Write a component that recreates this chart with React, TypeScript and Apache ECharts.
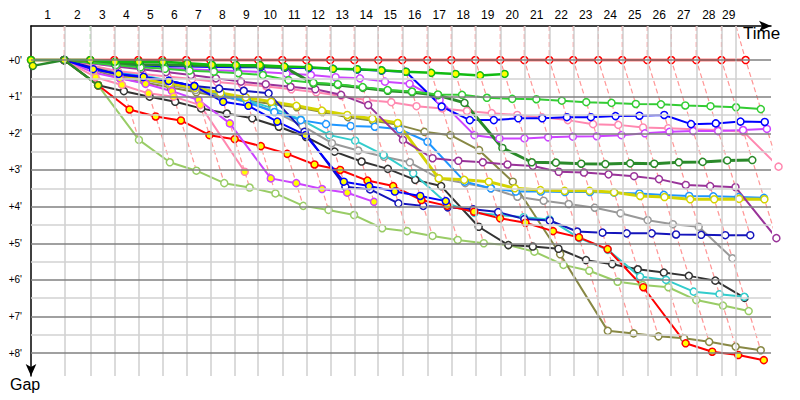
import React, { useEffect, useRef } from "react";
import * as echarts from "echarts";

// Leader's race time (minutes) at the end of each lap, index = lap (0 = start)
const leaderTimes = [
  0, 2.947, 5.248, 7.372, 9.496, 11.619, 13.743, 15.867, 17.991, 20.115, 22.239,
  24.363, 26.487, 28.611, 30.735, 32.858, 35.071, 37.195, 39.319, 41.531, 43.655,
  45.867, 47.991, 50.204, 52.327, 54.54, 56.664, 58.876, 61.106, 63.248,
];
// vertical grid lines (lap boundaries on the time axis), laps 1..29
const lapGridTimes = [
  2.947, 5.248, 7.372, 9.496, 11.619, 13.743, 15.867, 17.991, 20.115, 22.239,
  24.363, 26.487, 28.611, 30.735, 32.858, 35.071, 37.195, 39.319, 41.531, 43.655,
  45.867, 47.991, 50.204, 52.327, 54.54, 56.664, 58.876, 61.106, 62.389,
];
const gapTicks = [0, 1, 2, 3, 4, 5, 6, 7, 8];
const gapHalfTicks = [0.5, 1.5, 2.5, 3.5, 4.5, 5.5, 6.5, 7.5];
const greenLapLines = [2];

const GAP_MIN = -0.928;
const GAP_MAX = 8.622;
const TIME_MAX = 65.49;

// gaps (minutes behind the leader) per lap, index = lap; null = no point
const gapsA = [0, 0, 0, 0, 0, 0, 0, 0, 0, 0, 0, 0, 0, 0, 0, 0, 0, 0, 0, 0, 0, 0, 0, 0, 0, 0, 0, 0, 0, 0];
const gapsB = [0, 0, 0, 0.05, 0.05, 0.05, 0.09, 0.13, 0.14, 0.14, 0.18, 0.2, 0.24, 0.25, 0.28, 0.32, 0.35, 0.38, 0.42, 0.38];
const gapsC = [null, 0, null, 0.14, 0.2, 0.24, 0.29, 0.32, 0.36, 0.41, 0.55, 0.62, 0.66, 0.74, 0.82, 0.86, 0.94, 0.95, 1.03, 1.06, 1.07, 1.11, 1.15, 1.17, 1.2, 1.21, 1.24, 1.26, 1.29, 1.34];
const gapsD = [null, 0, null, 0.1, 0.12, 0.13, 0.14, 0.15, 0.16, 0.17, 0.2, 0.64, 0.68, 0.76, 0.84, 0.88, 0.96, 1.17, 2.4, 2.79, 2.8, 2.83, 2.84, 2.82, 2.83, 2.79, 2.78, 2.74, 2.73];
const gapsF = [null, 0, null, 0.12, 0.15, 0.17, 0.18, 0.19, 0.2, 0.2, 0.21, 0.22, 0.24, 0.26, 0.29, 0.32, 1.27, 1.64, 1.64, 1.59, 1.59, 1.56, 1.56, 1.53, 1.52, 1.5, 1.75, 1.73, 1.68, 1.69];
const gapsG = [null, 0, null, 0.4, 0.47, 0.57, 0.71, 0.78, 0.84, 0.91, 1.96, 3.46, 3.53, 3.91, 3.98, 4.02, 4.07, 4.15, 4.34, 4.38, 4.68, 4.71, 4.73, 4.73, 4.76, 4.77, 4.78, 4.78];
const gapsH = [null, 0, 0.25, 0.38, 0.46, 0.57, 0.71, 1.14, 1.25, 1.68, 2.05, 3.32, 3.44, 3.59, 3.71, 3.85];
const gapsI = [null, 0, null, 0.15, 0.19, 0.22, 0.25, 0.28, 0.3, 0.33, 0.37, 0.41, 0.47, 0.5, 0.59, 0.65, 1.09, 2.05, 2.14, 2.14, 2.11, 2.09, 2.08, 2.05, 2.0, 1.96, 1.94, 1.94, 1.91, 1.88];
const gapsJ = [null, 0, null, 0.18, 0.25, 0.33, 0.41, 0.5, 0.59, 0.66, 0.73, 0.8, 0.95, 1.23, 2.18, 2.68, 2.75, 2.79, 2.85, 2.89, 3.05, 3.07, 3.12, 3.17, 3.25, 3.41, 3.44, 3.47, 4.86];
const gapsK = [null, 0, null, 0.3, 0.38, 0.45, 0.52, 0.6, 0.66, 0.72, 0.8, 0.88, 0.98, 1.09, 1.15, 1.26, 1.32, 1.39, 1.45, 1.5, 1.56, 1.64, 1.75, 1.77, 1.84, 1.86, 1.89, 1.91, 1.96, 2.91];
const gapsL = [null, 0, 0.47, 0.68, 0.91, 1.0, 1.23, 3.05];
const gapsM = [null, 0, 0.35, 0.5, 0.65, 0.85, 1.09, 1.73, 3.23, 3.36, 3.52, 3.62, 3.87];
const gapsN = [null, 0, null, 0.4, 0.52, 0.64, 0.76, 0.9, 1.02, 1.14, 1.25, 1.38, 1.5, 1.6, 1.72, 3.23, 3.27, 3.32, 3.5, 3.55, 3.57, 3.57, 3.61, 3.71, 3.74, 3.8, 3.8, 3.79, 3.8];
const gapsO = [null, 0, null, 0.5, 0.62, 0.75, 0.88, 1.0, 1.1, 1.2, 1.29, 1.42, 1.56, 1.66, 1.77, 1.96, 2.05, 2.46, 3.32, 5.3, 7.39, 7.46, 7.54, 7.59, 7.69, 7.82, 7.92];
const gapsP = [null, 0, null, 0.35, 0.45, 0.6, 0.75, 0.95, 1.15, 1.42, 1.64, 1.75, 1.8, 1.82, 1.89, 2.23, 3.32, 3.5, 3.59, 3.59, 3.6, 3.6, 3.62, 3.64, 3.68, 3.71, 3.72, 3.74, 3.76];
const gapsQ = [null, 0, null, 0.32, 0.42, 0.56, 0.72, 0.9, 1.1, 1.32, 1.62, 2.05, 2.2, 2.59, 3.09, 3.9, 4.17, 4.23, 4.29, 4.35, 4.86, 5.18, 5.91, 6.0, 6.32, 6.39, 6.46];
const gapsR = [null, 0, 0.69, 0.85, 1.0, 1.14, 1.32, 1.46, 1.59, 1.82, 2.1, 2.5, 2.77, 2.97, 3.27, 3.44, 4.55, 5.05, 5.09, 5.15, 5.46, 5.57, 5.71, 5.8, 5.89, 6.02, 6.49];
const gapsS = [null, 0, 0.69, 1.35, 1.54, 1.65, 2.05, 2.16, 2.35, 2.56, 2.85, 3.0, 3.29, 3.44, 3.82, 3.98, 4.14, 4.32, 4.44, 4.67, 4.84, 5.16, 6.2, 7.73, 7.96, 8.05, 8.19];
const gapsT = [null, 0, null, 0.45, 0.55, 0.68, 0.82, 0.98, 1.15, 1.4, 1.8, 2.27, 2.47, 2.64, 2.79, 3.23, 3.36, 3.5, 3.73, 3.84, 3.93, 4.03, 4.18, 4.37, 4.48, 4.55, 5.41];
const gapsU = [null, 0, 0.69, 2.18, 2.79, 3.02, 3.36, 3.48, 3.64, 3.98, 4.09, 4.23, 4.59, 4.67, 4.8, 4.91, 5.0, 5.05, 5.23, 5.59, 5.75, 6.05, 6.14, 6.2, 6.55, 6.7, 6.85];
const gapsV = [0.16, 0, 0.69];

type Driver = { name: string; color: string; fill: string; width: number; gaps: (number | null)[] };

const WHITE = "#ffffff";
const YELLOW = "#ffff00";

// drawing order: first = bottom
const drivers: Driver[] = [
  { name: "U", color: "#99cc66", fill: WHITE, width: 2, gaps: gapsU },
  { name: "O", color: "#888844", fill: WHITE, width: 2, gaps: gapsO },
  { name: "T", color: "#999999", fill: WHITE, width: 2, gaps: gapsT },
  { name: "R", color: "#333333", fill: WHITE, width: 2, gaps: gapsR },
  { name: "Q", color: "#33cccc", fill: WHITE, width: 2, gaps: gapsQ },
  { name: "P", color: "#1e96ff", fill: WHITE, width: 2, gaps: gapsP },
  { name: "N", color: "#d4d400", fill: WHITE, width: 3, gaps: gapsN },
  { name: "K", color: "#ff88b0", fill: WHITE, width: 2, gaps: gapsK },
  { name: "J", color: "#993399", fill: WHITE, width: 2, gaps: gapsJ },
  { name: "I", color: "#cc44ff", fill: WHITE, width: 2, gaps: gapsI },
  { name: "G", color: "#1414bb", fill: WHITE, width: 2, gaps: gapsG },
  { name: "F", color: "#0000ff", fill: WHITE, width: 2, gaps: gapsF },
  { name: "D", color: "#2a8a2a", fill: WHITE, width: 3, gaps: gapsD },
  { name: "C", color: "#33cc33", fill: WHITE, width: 2, gaps: gapsC },
  { name: "S", color: "#ff0000", fill: YELLOW, width: 2, gaps: gapsS },
  { name: "M", color: "#cc44ff", fill: YELLOW, width: 2, gaps: gapsM },
  { name: "L", color: "#ff88b0", fill: YELLOW, width: 2, gaps: gapsL },
  { name: "H", color: "#0000ff", fill: YELLOW, width: 2, gaps: gapsH },
  { name: "A", color: "#ff0000", fill: WHITE, width: 2.5, gaps: gapsA },
  { name: "B", color: "#11bb11", fill: YELLOW, width: 2.5, gaps: gapsB },
  { name: "V", color: "#2a8a2a", fill: YELLOW, width: 2.5, gaps: gapsV },
];

const toPoints = (gaps: (number | null)[]) =>
  gaps
    .map((g, lap) => (g == null ? null : [leaderTimes[lap] + g, g]))
    .filter((p) => p !== null) as number[][];

const lapLabelTimes = lapGridTimes.map((t, i) => ((i === 0 ? 0 : lapGridTimes[i - 1]) + t) / 2);

export default function App() {
  const ref = useRef<HTMLDivElement>(null);

  useEffect(() => {
    if (!ref.current) return;
    const chart = echarts.init(ref.current, undefined, { renderer: "svg" });

    const gridSeries: any = {
      type: "line",
      data: [],
      silent: true,
      z: 1,
      markLine: {
        silent: true,
        animation: false,
        symbol: ["none", "none"],
        label: { show: false },
        emphasis: { disabled: true },
        data: [
          ...lapGridTimes.map((t) => ({ xAxis: t, lineStyle: { color: "#cfcfcf", width: 1.5, type: "solid" } })),
          ...gapHalfTicks.map((v) => ({ yAxis: v, lineStyle: { color: "#d2d2d2", width: 1.5, type: "solid" } })),
          ...gapTicks.map((v) => ({ yAxis: v, lineStyle: { color: "#808080", width: 1.5, type: "solid" } })),
        ],
      },
    };

    const lapLines = lapGridTimes.map((gt, i) => {
      const lap = i + 1;
      let maxGap = 0;
      drivers.forEach((d) => {
        const g = d.gaps[lap];
        if (g != null && g > maxGap) maxGap = g;
      });
      return {
        type: "line",
        silent: true,
        clip: false,
        z: 2,
        symbol: "none",
        data: [
          [gt, GAP_MIN],
          [leaderTimes[lap], 0],
          [leaderTimes[lap] + maxGap, maxGap],
        ],
        lineStyle: {
          color: greenLapLines.includes(lap) ? "#96d690" : "#ff9696",
          width: 1.2,
          type: [5, 3],
        },
      };
    });

    const driverSeries = drivers.map((d) => ({
      type: "line",
      name: d.name,
      silent: true,
      clip: false,
      z: 3,
      data: toPoints(d.gaps),
      symbol: "circle",
      symbolSize: 7,
      showSymbol: true,
      showAllSymbol: true,
      emphasis: { disabled: true },
      lineStyle: { color: d.color, width: d.width },
      itemStyle: { color: d.fill, borderColor: d.color, borderWidth: 1.5 },
    }));

    chart.setOption({
      animation: false,
      backgroundColor: "#ffffff",
      grid: { left: 31, top: 26, right: 29, bottom: 24 },
      xAxis: {
        type: "value",
        position: "top",
        min: 0,
        max: TIME_MAX,
        splitLine: { show: false },
        axisTick: { show: false },
        axisLine: {
          show: true,
          onZero: false,
          symbol: ["none", "arrow"],
          symbolSize: [8, 12],
          lineStyle: { color: "#000", width: 1.5 },
        },
        axisLabel: {
          customValues: lapLabelTimes,
          formatter: (v: number) => {
            const idx = lapLabelTimes.findIndex((t) => Math.abs(t - v) < 1e-6);
            return String(idx + 1);
          },
          margin: 5,
          color: "#000",
          fontSize: 12,
          fontFamily: "Liberation Sans",
        },
      },
      yAxis: {
        type: "value",
        inverse: true,
        min: GAP_MIN,
        max: GAP_MAX,
        splitLine: { show: false },
        axisTick: { show: false },
        axisLine: {
          show: true,
          onZero: false,
          symbol: ["arrow", "none"],
          symbolSize: [8, 12],
          symbolOffset: [0, 0],
          lineStyle: { color: "#000", width: 1.5 },
        },
        axisLabel: {
          customValues: gapTicks,
          formatter: (v: number) => `+${v}'`,
          margin: 9,
          color: "#000",
          fontSize: 10,
          fontFamily: "Liberation Sans",
        },
      },
      graphic: [
        { type: "text", left: 743, top: 25, style: { text: "Time", font: '17px "Liberation Sans"', fill: "#000" } },
        { type: "text", left: 10, top: 376, style: { text: "Gap", font: '16px "Liberation Sans"', fill: "#000" } },
      ],
      series: [gridSeries, ...lapLines, ...driverSeries],
    });

    return () => chart.dispose();
  }, []);

  return <div ref={ref} style={{ position: "fixed", left: 0, top: 0, width: 800, height: 400 }} />;
}
